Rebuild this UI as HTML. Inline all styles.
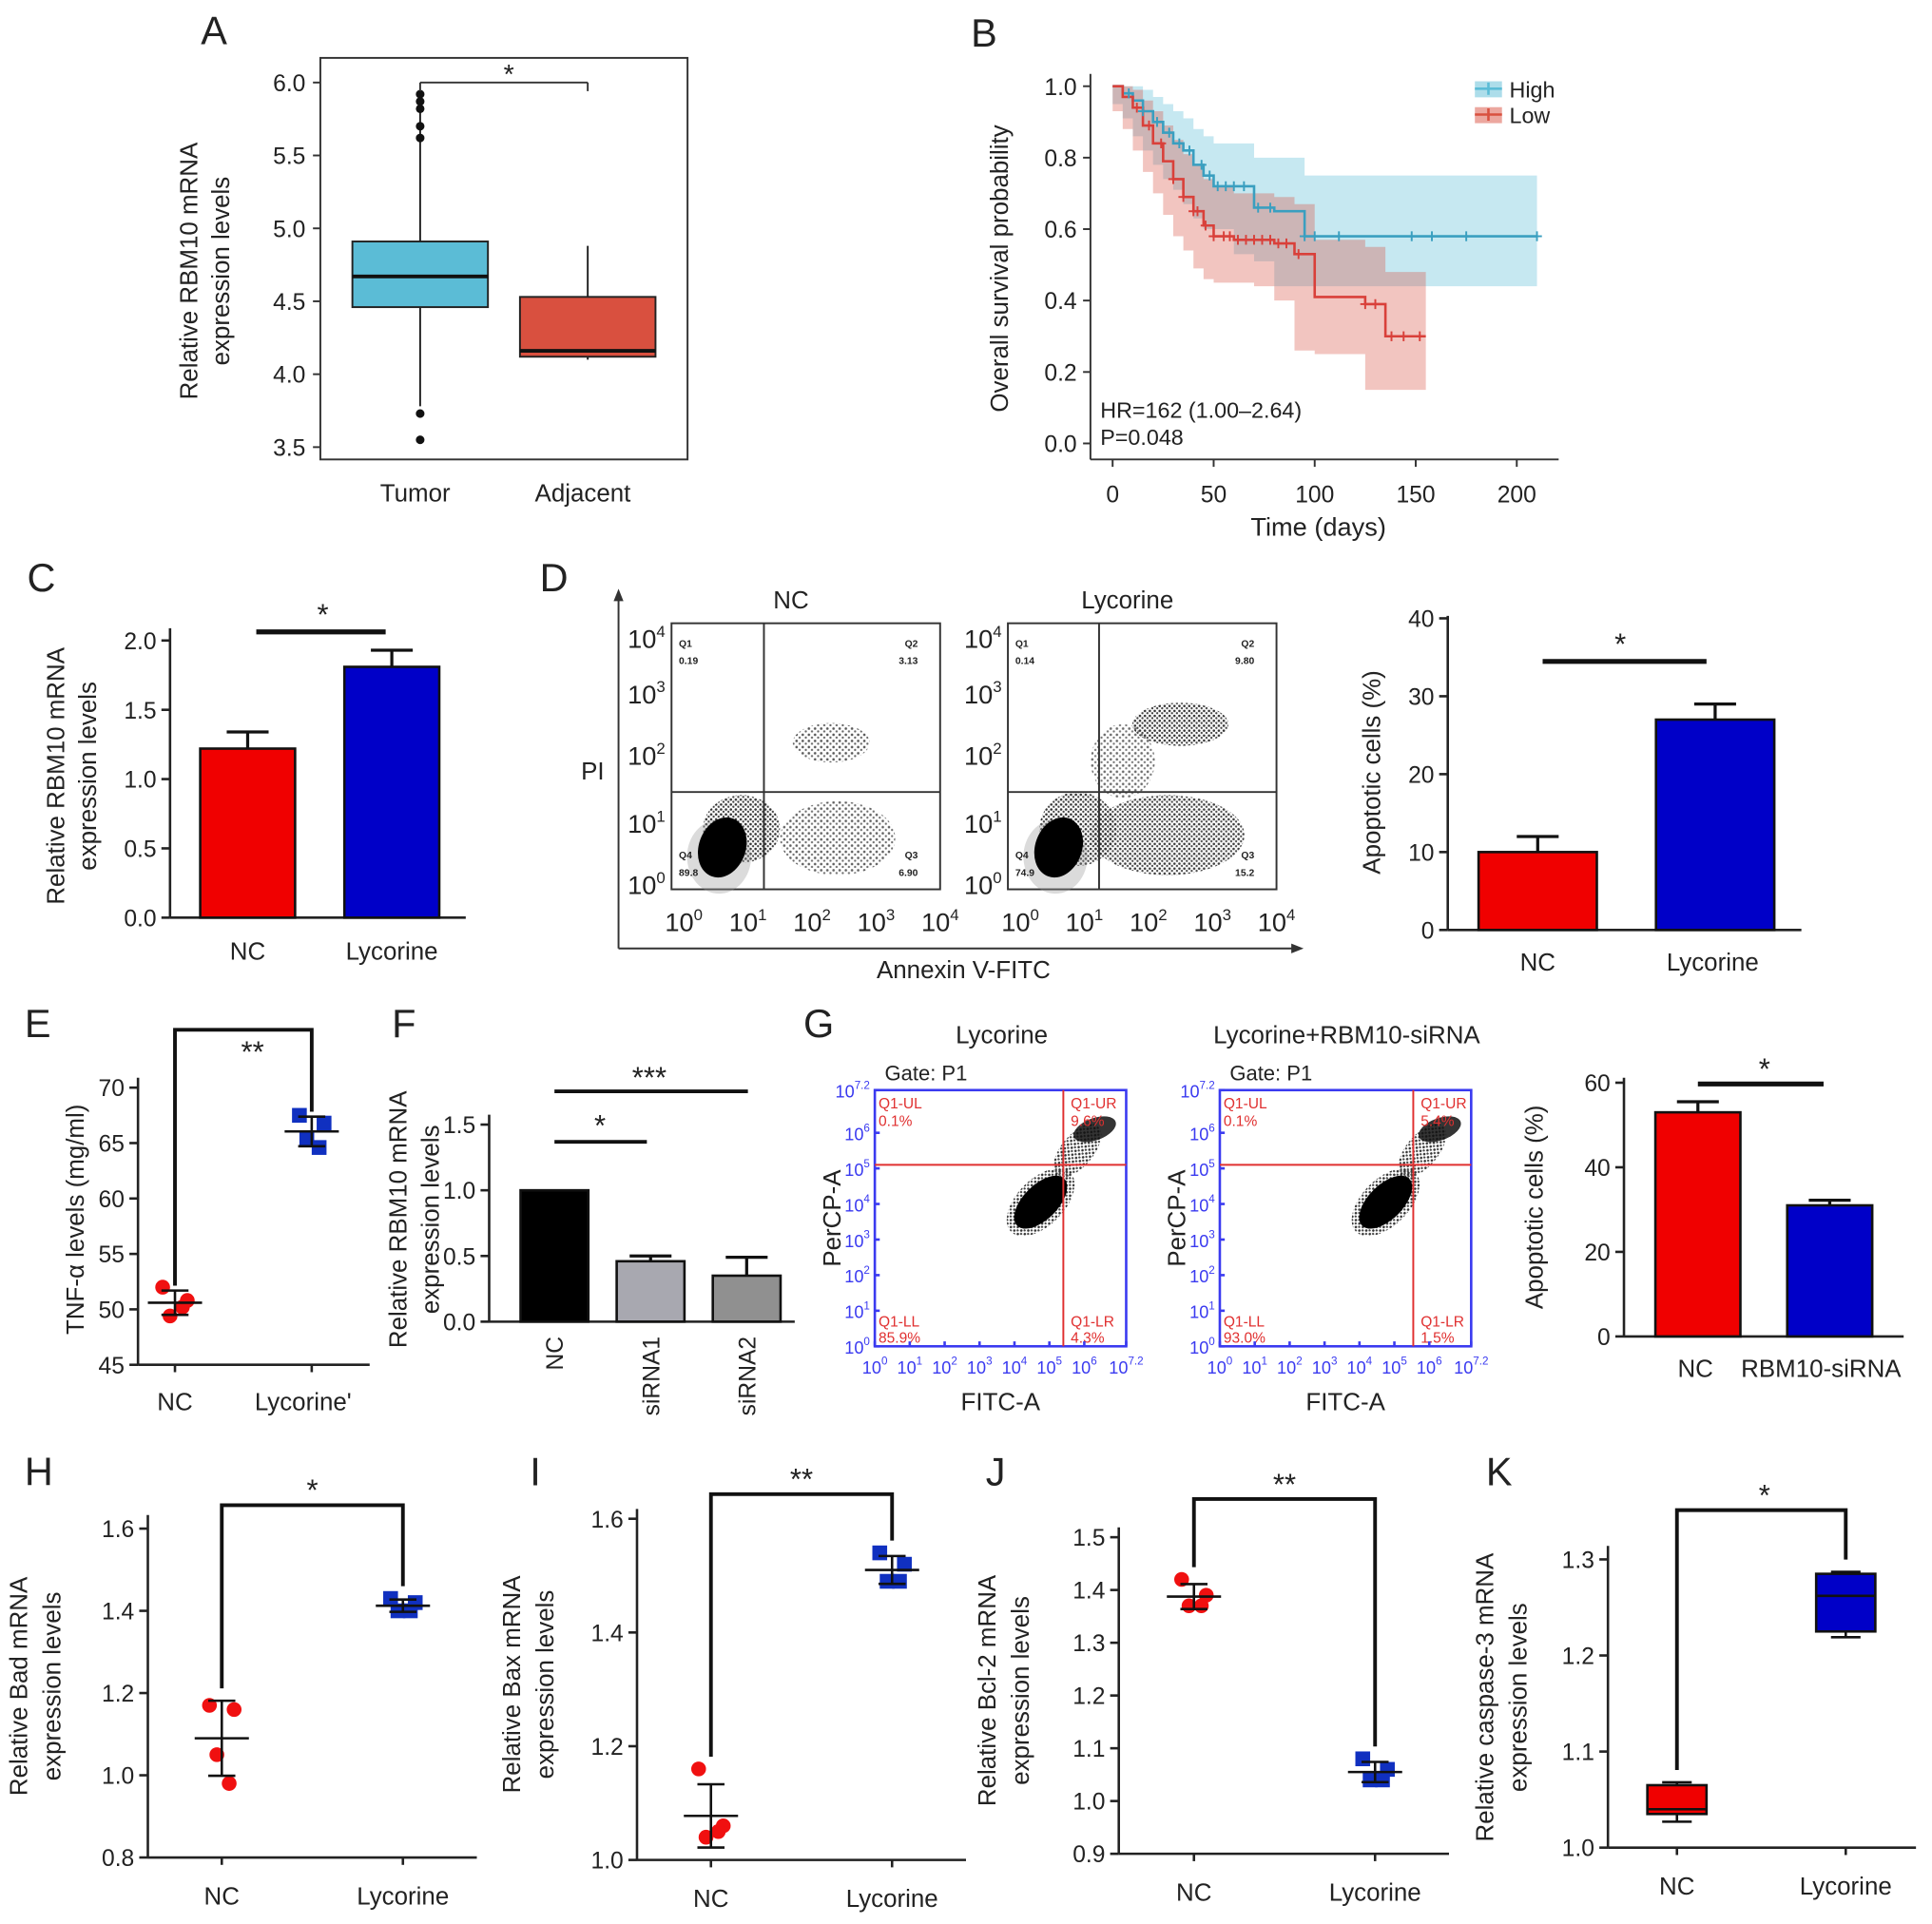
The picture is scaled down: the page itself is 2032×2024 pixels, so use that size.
<!DOCTYPE html>
<html><head><meta charset="utf-8"><style>
html,body{margin:0;padding:0;background:#fff;}
svg{display:block;font-family:"Liberation Sans",sans-serif;}
</style></head><body>
<svg id="fig" xmlns="http://www.w3.org/2000/svg" width="2032" height="2024" viewBox="0 0 1568 1562" preserveAspectRatio="none">
<defs>
<pattern id="dots" width="4" height="4" patternUnits="userSpaceOnUse"><circle cx="1.2" cy="1.2" r="1" fill="#333"/><circle cx="3.2" cy="3" r="0.9" fill="#444"/></pattern>
<pattern id="dots2" width="5" height="5" patternUnits="userSpaceOnUse"><circle cx="1.5" cy="1.5" r="1" fill="#444"/><circle cx="4" cy="3.8" r="0.9" fill="#555"/></pattern>
</defs>
</svg>
<script>
// ---------- data ----------
const aCategories=["Tumor","Adjacent"];
const aTumorBox=[3.78,4.46,4.67,4.91,5.85];
const aAdjBox=[4.10,4.12,4.16,4.53,4.88];
const aTumorOutliers=[5.92,5.87,5.82,5.70,5.62,3.73,3.55];
const aTicks=[3.5,4.0,4.5,5.0,5.5,6.0];

const kmHighT=[0,5,10,15,20,25,30,35,40,45,50,60,70,80,95,210];
const kmHighS=[1,0.98,0.96,0.93,0.9,0.87,0.84,0.82,0.78,0.75,0.72,0.72,0.66,0.65,0.58,0.58];
const kmHighUp=[1,1,1,0.99,0.97,0.95,0.93,0.91,0.88,0.86,0.84,0.84,0.8,0.8,0.75,0.75];
const kmHighLo=[1,0.95,0.91,0.86,0.82,0.78,0.74,0.71,0.67,0.63,0.6,0.6,0.53,0.51,0.44,0.44];
const kmLowT=[0,5,10,15,20,25,30,35,40,45,50,60,70,80,90,100,125,135,155];
const kmLowS=[1,0.97,0.94,0.89,0.84,0.79,0.74,0.69,0.65,0.61,0.58,0.57,0.57,0.56,0.53,0.41,0.39,0.3,0.3];
const kmLowUp=[1,1,0.99,0.96,0.93,0.89,0.85,0.81,0.78,0.74,0.72,0.7,0.7,0.69,0.67,0.57,0.55,0.48,0.48];
const kmLowLo=[1,0.93,0.88,0.82,0.76,0.7,0.64,0.58,0.54,0.49,0.46,0.45,0.45,0.44,0.4,0.26,0.25,0.15,0.15];
const kmHighCens=[8,15,22,28,33,38,44,48,52,56,60,65,72,78,95,100,112,148,158,175,210];
const kmLowCens=[12,18,24,30,35,40,42,46,50,55,58,62,66,70,74,78,82,86,92,125,130,138,144,152];
const kmXTicks=[0,50,100,150,200];
const kmYTicks=[0,0.2,0.4,0.6,0.8,1.0];

const cCategories=["NC","Lycorine"];
const cValues=[1.22,1.81];
const cErrors=[0.12,0.12];
const cTicks=[0,0.5,1.0,1.5,2.0];

const dQuad1=["0.19","3.13","89.8","6.90"];
const dQuad2=["0.14","9.80","74.9","15.2"];
const dCategories=["NC","Lycorine"];
const dValues=[10,27];
const dErrors=[2,2];
const dTicks=[0,10,20,30,40];

const eCategories=["NC","Lycorine'"];
const eNC=[52,50.8,49.4,50.2];
const eLy=[67.5,66.8,65.3,64.6];
const eTicks=[45,50,55,60,65,70];

const fCategories=["NC","siRNA1","siRNA2"];
const fValues=[1.0,0.46,0.35];
const fErrors=[0,0.04,0.14];
const fTicks=[0,0.5,1.0,1.5];

const gQuad1=["0.1%","9.6%","85.9%","4.3%"];
const gQuad2=["0.1%","5.4%","93.0%","1.5%"];
const gCategories=["NC","RBM10-siRNA"];
const gValues=[53,31];
const gErrors=[2.5,1.2];
const gTicks=[0,20,40,60];

const hNC=[1.17,1.16,1.05,0.98];
const hLy=[1.43,1.42,1.40,1.40];
const hTicks=[0.8,1.0,1.2,1.4,1.6];
const iNC=[1.16,1.06,1.04,1.05];
const iLy=[1.54,1.52,1.49,1.49];
const iTicks=[1.0,1.2,1.4,1.6];
const jNC=[1.42,1.39,1.37,1.37];
const jLy=[1.08,1.06,1.04,1.04];
const jTicks=[0.9,1.0,1.1,1.2,1.3,1.4,1.5];
const kNCBox=[1.027,1.035,1.04,1.065,1.068];
const kLyBox=[1.219,1.225,1.262,1.285,1.287];
const kTicks=[1.0,1.1,1.2,1.3];

// ---------- helpers ----------
const NS="http://www.w3.org/2000/svg";
const svg=document.getElementById('fig');
function el(tag,attrs,parent,name){const e=document.createElementNS(NS,tag);for(const k in attrs)e.setAttribute(k,attrs[k]);


(parent||svg).appendChild(e);return e;}
function grp(name){const g=document.createElementNS(NS,'g');


svg.appendChild(g);return g;}
function txt(p,x,y,s,size,opt,name){opt=opt||{};const t=el('text',{x:x,y:y,'font-size':size,'text-anchor':opt.anchor||'middle',fill:opt.fill||'#222'},p,name||'label');
if(opt.rot!==undefined)t.setAttribute('transform','rotate('+opt.rot+' '+x+' '+y+')');
if(opt.weight)t.setAttribute('font-weight',opt.weight);
t.textContent=s;return t;}
function ln(p,x1,y1,x2,y2,c,w,name){return el('line',{x1:x1,y1:y1,x2:x2,y2:y2,stroke:c||'#222','stroke-width':w||2},p,name||'line');}
function lin(v0,p0,v1,p1){return v=>p0+(v-v0)*(p1-p0)/(v1-v0);}
function yAxis(p,x,top,bot,ticks,sc,fmt,size){ln(p,x,top,x,bot,'#222',2,'y-axis-line');
ticks.forEach(t=>{const y=sc(t);ln(p,x-7,y,x,y,'#222',2,'y-tick');txt(p,x-11,y+7,fmt(t),size||19,{anchor:'end'},'y-tick-label');});}
function letter(x,y,s){txt(svg,x,y,s,32,{anchor:'start'},'panel-letter-'+s.toLowerCase());}
const f1=v=>v.toFixed(1), f0=v=>String(v);

// ---------- A ----------
(function(){const g=grp('panel-a-boxplot');letter(163,36,'A');
const y=lin(3.5,363,6.0,67);
el('rect',{x:260,y:47,width:298,height:326,fill:'none',stroke:'#333','stroke-width':1.5},g,'plot-frame');
aTicks.forEach(t=>{ln(g,254,y(t),260,y(t),'#333',1.5,'y-tick');txt(g,248,y(t)+7,t.toFixed(1),19,{anchor:'end'},'y-tick-label');});
const boxes=[aTumorBox,aAdjBox],cols=['#5bbcd6','#d9503f'],xs=[341,477];
boxes.forEach((b,i)=>{const cx=xs[i];ln(g,cx,y(b[0]),cx,y(b[4]),'#222',1.5,'whisker');
el('rect',{x:cx-55,y:y(b[3]),width:110,height:y(b[1])-y(b[3]),fill:cols[i],stroke:'#222','stroke-width':1.5},g,'box-'+aCategories[i].toLowerCase());
ln(g,cx-55,y(b[2]),cx+55,y(b[2]),'#111',3,'median');
txt(g,cx-4,407,aCategories[i],20,{},'x-tick-label');});
aTumorOutliers.forEach(v=>el('circle',{cx:341,cy:y(v),r:3.5,fill:'#111'},g,'outlier'));
ln(g,341,67,477,67,'#333',1.5,'sig-bracket');ln(g,341,67,341,74,'#333',1.5,'sig-bracket');ln(g,477,67,477,74,'#333',1.5,'sig-bracket');
txt(g,413,68,'*',22,{},'sig-star');
txt(g,160,220,'Relative RBM10 mRNA',20,{rot:-90},'y-axis-title');txt(g,186,220,'expression levels',20,{rot:-90},'y-axis-title');
})();

// ---------- B ----------
(function(){const g=grp('panel-b-km');letter(788,38,'B');
const x=lin(0,903,200,1231),y=lin(0,360,1,70);
ln(g,885,373,1265,373,'#333',1.5,'x-axis-line');ln(g,885,60,885,373,'#333',1.5,'y-axis-line');
kmYTicks.forEach(t=>{ln(g,879,y(t),885,y(t),'#333',1.5,'y-tick');txt(g,874,y(t)+7,t.toFixed(1),19,{anchor:'end'},'y-tick-label');});
kmXTicks.forEach(t=>{ln(g,x(t),373,x(t),379,'#333',1.5,'x-tick');txt(g,x(t),408,String(t),19,{},'x-tick-label');});
function step(T,S){let d='M'+x(T[0])+' '+y(S[0]);for(let i=1;i<T.length;i++)d+=' H'+x(T[i])+' V'+y(S[i]);return d;}
function band(T,U,L){let d='M'+x(T[0])+' '+y(U[0]);for(let i=1;i<T.length;i++)d+=' H'+x(T[i])+' V'+y(U[i]);
for(let i=T.length-1;i>0;i--)d+=' V'+y(L[i])+' H'+x(T[i-1]);d+=' V'+y(L[0])+' Z';return d;}
el('path',{d:band(kmHighT,kmHighUp,kmHighLo),fill:'#5bbcd6','fill-opacity':0.35,stroke:'none'},g,'ci-band-high');
el('path',{d:band(kmLowT,kmLowUp,kmLowLo),fill:'#d9503f','fill-opacity':0.33,stroke:'none'},g,'ci-band-low');
el('path',{d:step(kmHighT,kmHighS),fill:'none',stroke:'#3a9fc0','stroke-width':2},g,'curve-high');
el('path',{d:step(kmLowT,kmLowS),fill:'none',stroke:'#d9403a','stroke-width':2},g,'curve-low');
function sAt(T,S,t){let s=S[0];for(let i=0;i<T.length;i++)if(T[i]<=t)s=S[i];return s;}
kmHighCens.forEach(t=>{const cx=x(t),cy=y(sAt(kmHighT,kmHighS,t));ln(g,cx-4,cy,cx+4,cy,'#3a9fc0',1.5,'censor-high');ln(g,cx,cy-4,cx,cy+4,'#3a9fc0',1.5,'censor-high');});
kmLowCens.forEach(t=>{const cx=x(t),cy=y(sAt(kmLowT,kmLowS,t));ln(g,cx-4,cy,cx+4,cy,'#d9403a',1.5,'censor-low');ln(g,cx,cy-4,cx,cy+4,'#d9403a',1.5,'censor-low');});
[['High','#5bbcd6',72],['Low','#d9503f',93]].forEach(l=>{el('rect',{x:1197,y:l[2]-6,width:22,height:13,fill:l[1],'fill-opacity':0.5},g,'legend-swatch');
ln(g,1197,l[2],1219,l[2],l[1],2,'legend-line');ln(g,1208,l[2]-5,1208,l[2]+5,l[1],2,'legend-line');
txt(g,1225,l[2]+7,l[0],18,{anchor:'start'},'legend-entry-'+l[0].toLowerCase());});
txt(g,893,339,'HR=162 (1.00–2.64)',18,{anchor:'start'},'hr-annotation');txt(g,893,361,'P=0.048',18,{anchor:'start'},'p-annotation');
txt(g,1070,435,'Time (days)',21,{},'x-axis-title');txt(g,818,218,'Overall survival probability',20,{rot:-90},'y-axis-title');
})();

// ---------- bar helper ----------
function bars(g,xs,w,vals,errs,cols,y,y0){vals.forEach((v,i)=>{const cx=xs[i];
if(errs[i]>0){ln(g,cx,y(v),cx,y(v+errs[i]),'#111',2.5,'error-bar');ln(g,cx-17,y(v+errs[i]),cx+17,y(v+errs[i]),'#111',2.5,'error-cap');}
el('rect',{x:cx-w/2,y:y(v),width:w,height:y0-y(v),fill:cols[i],stroke:'#111','stroke-width':2},g,'bar-'+i);});}

// ---------- C ----------
(function(){const g=grp('panel-c-bar');letter(22,480,'C');
const y=lin(0,745,2,520);yAxis(g,138,510,745,cTicks,y,f1);
ln(g,138,745,378,745,'#222',2,'x-axis-line');
bars(g,[201,318],77,cValues,cErrors,['#f00000','#0000c8'],y,745);
cCategories.forEach((c,i)=>txt(g,[201,318][i],779,c,20,{},'x-tick-label'));
ln(g,208,513,313,513,'#111',4,'sig-bar');txt(g,262,507,'*',24,{},'sig-star');
txt(g,52,630,'Relative RBM10 mRNA',20,{rot:-90},'y-axis-title');txt(g,78,630,'expression levels',20,{rot:-90},'y-axis-title');
})();

// ---------- D flow ----------
function flow(g,x0,title,q,lineX,lineY,mode){const W=218,H=216,y0=506;
el('rect',{x:x0,y:y0,width:W,height:H,fill:'#fff',stroke:'#333','stroke-width':1.5},g,'flow-frame');
const lx=v=>x0+10+v*52, ly=v=>y0+H-4-v*50;
const cl=mode===1?[[2.3,2.3,0.6,0.32,'url(#dots2)',0.9],[2.4,0.75,0.9,0.6,'url(#dots2)',0.85],[0.9,0.9,0.6,0.55,'url(#dots)',1]]
:[[2.5,2.6,0.75,0.35,'url(#dots)',1],[2.3,0.8,1.2,0.65,'url(#dots)',0.95],[1.6,2.0,0.5,0.6,'url(#dots2)',0.8],[0.9,0.9,0.6,0.6,'url(#dots)',1]];
cl.forEach(c=>el('ellipse',{cx:lx(c[0]),cy:ly(c[1]),rx:c[2]*52,ry:c[3]*50,fill:c[4],'fill-opacity':c[5]},g,'event-cloud'));
el('ellipse',{cx:lx(0.55),cy:ly(0.45),rx:26,ry:30,fill:'#999','fill-opacity':0.35},g,'halo-population');
el('ellipse',{cx:lx(0.6),cy:ly(0.6),rx:19,ry:25,fill:'#000',transform:'rotate(20 '+lx(0.6)+' '+ly(0.6)+')'},g,'dense-population');
ln(g,lineX,y0,lineX,y0+H,'#333',1.5,'quadrant-line-v');ln(g,x0,lineY,x0+W,lineY,'#333',1.5,'quadrant-line-h');
txt(g,x0+6,y0+19,'Q1',8,{anchor:'start',weight:'bold'},'quad-label');txt(g,x0+6,y0+33,q[0],8,{anchor:'start',weight:'bold'},'quad-value');
txt(g,x0+W-18,y0+19,'Q2',8,{anchor:'end',weight:'bold'},'quad-label');txt(g,x0+W-18,y0+33,q[1],8,{anchor:'end',weight:'bold'},'quad-value');
txt(g,x0+6,y0+H-25,'Q4',8,{anchor:'start',weight:'bold'},'quad-label');txt(g,x0+6,y0+H-11,q[2],8,{anchor:'start',weight:'bold'},'quad-value');
txt(g,x0+W-18,y0+H-25,'Q3',8,{anchor:'end',weight:'bold'},'quad-label');txt(g,x0+W-18,y0+H-11,q[3],8,{anchor:'end',weight:'bold'},'quad-value');
[0,1,2,3,4].forEach(i=>{const yy=[718,668,613,563,518][i];const t=txt(g,x0-5,yy+8,'10',21,{anchor:'end'},'y-tick-label');
const s=document.createElementNS(NS,'tspan');s.setAttribute('dy','-9');s.setAttribute('font-size','13');s.textContent=i;t.appendChild(s);
const xx=x0+10+i*52;const t2=txt(g,xx,756,'10',21,{},'x-tick-label');const s2=document.createElementNS(NS,'tspan');s2.setAttribute('dy','-9');s2.setAttribute('font-size','13');s2.textContent=i;t2.appendChild(s2);});
txt(g,x0+W/2-12,494,title,20,{},'flow-title');}
(function(){const g=grp('panel-d-flow');letter(438,480,'D');
ln(g,502,770,502,482,'#333',1.5,'axis-arrow');el('path',{d:'M498 488 L502 478 L506 488 Z',fill:'#333'},g,'arrowhead');
ln(g,502,770,1052,770,'#333',1.5,'axis-arrow');el('path',{d:'M1048 766 L1058 770 L1048 774 Z',fill:'#333'},g,'arrowhead');
flow(g,545,'NC',dQuad1,620,643,1);flow(g,818,'Lycorine',dQuad2,892,643,2);
txt(g,481,633,'PI',20,{},'y-axis-title');txt(g,782,794,'Annexin V-FITC',20,{},'x-axis-title');
const g2=grp('panel-d-bar');const y=lin(0,755,40,502);yAxis(g2,1175,500,755,dTicks,y,f0);
ln(g2,1175,755,1462,755,'#222',2,'x-axis-line');
bars(g2,[1248,1392],96,dValues,dErrors,['#f00000','#0000c8'],y,755);
dCategories.forEach((c,i)=>txt(g2,[1248,1390][i],788,c,20,{},'x-tick-label'));
ln(g2,1252,537,1385,537,'#111',4,'sig-bar');txt(g2,1315,531,'*',24,{},'sig-star');
txt(g2,1120,627,'Apoptotic cells (%)',20,{rot:-90},'y-axis-title');
})();

// ---------- dot plot helper ----------
const jit=[-10,10,-4,6];
function dots(g,cx,vals,y,col,shape){vals.forEach((v,i)=>{const px=cx+jit[i],py=y(v);
if(shape==='c')el('circle',{cx:px,cy:py,r:6,fill:col},g,'point');else el('rect',{x:px-6,y:py-6,width:12,height:12,fill:col},g,'point');});
const m=vals.reduce((a,b)=>a+b)/vals.length;const sd=Math.sqrt(vals.reduce((a,b)=>a+(b-m)*(b-m),0)/(vals.length-1));
ln(g,cx-22,y(m),cx+22,y(m),'#111',2,'mean-line');ln(g,cx,y(m-sd),cx,y(m+sd),'#111',2,'sd-line');
ln(g,cx-11,y(m-sd),cx+11,y(m-sd),'#111',2,'sd-cap');ln(g,cx-11,y(m+sd),cx+11,y(m+sd),'#111',2,'sd-cap');return [m,sd];}
function bracket(g,x1,y1,x2,y2,top){el('path',{d:'M'+x1+' '+y1+' V'+top+' H'+x2+' V'+y2,fill:'none',stroke:'#111','stroke-width':3},g,'sig-bracket');}

// ---------- E ----------
(function(){const g=grp('panel-e-dots');letter(20,842,'E');
const y=lin(45,1108,70,883);yAxis(g,112,875,1108,eTicks,y,f0);ln(g,112,1108,300,1108,'#222',2,'x-axis-line');
const a=dots(g,142,eNC,y,'#f01010','c'),b=dots(g,253,eLy,y,'#1030c0','s');
bracket(g,142,y(a[0]+a[1])-4,253,y(b[0]+b[1])-4,836);txt(g,205,862,'**',24,{},'sig-star');
eCategories.forEach((c,i)=>{ln(g,[142,253][i],1108,[142,253][i],1114,'#222',2,'x-tick');txt(g,[142,246][i],1145,c,20,{},'x-tick-label');});
txt(g,68,990,'TNF-α levels (mg/ml)',20,{rot:-90},'y-axis-title');
})();

// ---------- F ----------
(function(){const g=grp('panel-f-bar');letter(318,842,'F');
const y=lin(0,1073,1.5,913);yAxis(g,397,905,1073,fTicks,y,f1);ln(g,397,1073,645,1073,'#222',2,'x-axis-line');
bars(g,[450,528,606],55,fValues,fErrors,['#000','#a8a8b0','#909090'],y,1073);
fCategories.forEach((c,i)=>txt(g,[450,528,606][i]+7,1085,c,19,{anchor:'end',rot:-90},'x-tick-label'));
ln(g,450,927,525,927,'#111',3,'sig-bar');txt(g,487,922,'*',24,{},'sig-star');
ln(g,450,886,607,886,'#111',3,'sig-bar');txt(g,527,883,'***',24,{},'sig-star');
txt(g,330,990,'Relative RBM10 mRNA',20,{rot:-90},'y-axis-title');txt(g,356,990,'expression levels',20,{rot:-90},'y-axis-title');
})();

// ---------- G flow ----------
function gflow(g,x0,title,q,lx){const W=204,y0=885,H=208,blue='#3a3af0',red='#e03030';
el('rect',{x:x0,y:y0,width:W,height:H,fill:'#fff',stroke:blue,'stroke-width':2},g,'flow-frame');
const sx=lin(0,x0,7.2,x0+W),sy=lin(0,y0+H,7.2,y0);
el('ellipse',{cx:sx(4.75),cy:sy(4.05),rx:34,ry:19,fill:'url(#dots)',transform:'rotate(-45 '+sx(4.75)+' '+sy(4.05)+')'},g,'event-halo');
el('ellipse',{cx:sx(4.75),cy:sy(4.05),rx:27,ry:14,fill:'#000',transform:'rotate(-45 '+sx(4.75)+' '+sy(4.05)+')'},g,'dense-population');
el('ellipse',{cx:sx(5.8),cy:sy(5.5),rx:26,ry:13,fill:'url(#dots)',transform:'rotate(-50 '+sx(5.8)+' '+sy(5.5)+')'},g,'event-cloud');
el('ellipse',{cx:sx(6.3),cy:sy(6.1),rx:18,ry:9,fill:'#111','fill-opacity':0.85,transform:'rotate(-20 '+sx(6.3)+' '+sy(6.1)+')'},g,'event-cloud');
ln(g,lx,y0,lx,y0+H,red,1.5,'quadrant-line-v');ln(g,x0,sy(5.1),x0+W,sy(5.1),red,1.5,'quadrant-line-h');
const o={anchor:'start',fill:red};
txt(g,x0+3,y0+15,'Q1-UL',12,o,'quad-label');txt(g,x0+3,y0+29,q[0],12,o,'quad-value');
txt(g,lx+6,y0+15,'Q1-UR',12,o,'quad-label');txt(g,lx+6,y0+29,q[1],12,o,'quad-value');
txt(g,x0+3,y0+H-16,'Q1-LL',12,o,'quad-label');txt(g,x0+3,y0+H-3,q[2],12,o,'quad-value');
txt(g,lx+6,y0+H-16,'Q1-LR',12,o,'quad-label');txt(g,lx+6,y0+H-3,q[3],12,o,'quad-value');
for(let i=0;i<=7;i++){const lab=i===7?'7.2':String(i),v=i===7?7.2:i;
const t=txt(g,x0-4,sy(v)+6,'10',14,{anchor:'end',fill:blue},'y-tick-label');const s=document.createElementNS(NS,'tspan');s.setAttribute('dy','-7');s.setAttribute('font-size','9');s.textContent=lab;t.appendChild(s);
const t2=txt(g,sx(v),y0+H+22,'10',14,{fill:blue},'x-tick-label');const s2=document.createElementNS(NS,'tspan');s2.setAttribute('dy','-7');s2.setAttribute('font-size','9');s2.textContent=lab;t2.appendChild(s2);
ln(g,x0,sy(v),x0+4,sy(v),blue,2,'y-tick');ln(g,sx(v),y0+H,sx(v),y0+H-4,blue,2,'x-tick');}
txt(g,x0+8,y0-8,'Gate: P1',17,{anchor:'start'},'gate-label');txt(g,x0+103,y0-38,title,20,{},'flow-title');
txt(g,x0-28,y0+H/2,'PerCP-A',20,{rot:-90},'y-axis-title');txt(g,x0+102,y0+H+52,'FITC-A',20,{},'x-axis-title');}
(function(){const g=grp('panel-g-flow');letter(652,842,'G');
gflow(g,710,'Lycorine',gQuad1,863);gflow(g,990,'Lycorine+RBM10-siRNA',gQuad2,1147);
const g2=grp('panel-g-bar');const y=lin(0,1085,60,879);yAxis(g2,1318,875,1085,gTicks,y,f0);
ln(g2,1318,1085,1545,1085,'#222',2,'x-axis-line');
bars(g2,[1378,1485],69,gValues,gErrors,['#f00000','#0000c8'],y,1085);
gCategories.forEach((c,i)=>txt(g2,[1376,1478][i],1118,c,20,{},'x-tick-label'));
ln(g2,1378,880,1480,880,'#111',4,'sig-bar');txt(g2,1432,876,'*',24,{},'sig-star');
txt(g2,1252,980,'Apoptotic cells (%)',20,{rot:-90},'y-axis-title');
})();

// ---------- H I J ----------
function dotPanel(name,L,lx,ly,axX,top,bot,v0,p0,v1,p1,ticks,fmt,xa,xb,nc,ly2,brTop,stars,t1,t2,tx){
const g=grp(name);letter(lx,ly,L);const y=lin(v0,p0,v1,p1);yAxis(g,axX,top,bot,ticks,y,fmt);
ln(g,axX,bot,xb+60,bot,'#222',2,'x-axis-line');
const a=dots(g,xa,nc,y,'#f01010','c'),b=dots(g,xb,ly2,y,'#1030c0','s');
bracket(g,xa,Math.min(y(a[0]+a[1]),y(Math.max(...nc)))-10,xb,Math.min(y(b[0]+b[1]),y(Math.max(...ly2)))-10,brTop);
txt(g,(xa+xb)/2,brTop-4,stars,24,{},'sig-star');
[xa,xb].forEach((x,i)=>{ln(g,x,bot,x,bot+6,'#222',2,'x-tick');txt(g,x,bot+38,['NC','Lycorine'][i],20,{},'x-tick-label');});
txt(g,tx,(top+bot)/2,t1,20,{rot:-90},'y-axis-title');txt(g,tx+27,(top+bot)/2,'expression levels',20,{rot:-90},'y-axis-title');}
dotPanel('panel-h-dots','H',20,1206,120,1230,1508,0.8,1508,1.6,1241,hTicks,f1,180,327,hNC,hLy,1222,'*','Relative Bad mRNA',0,22);
dotPanel('panel-i-dots','I',430,1206,517,1225,1510,1.0,1510,1.6,1233,iTicks,f1,577,724,iNC,iLy,1213,'**','Relative Bax mRNA',0,422);
dotPanel('panel-j-dots','J',800,1206,908,1240,1505,0.9,1505,1.5,1248,jTicks,f1,969,1116,jNC,jLy,1217,'**','Relative Bcl-2 mRNA',0,808);

// ---------- K ----------
(function(){const g=grp('panel-k-boxplot');letter(1206,1206,'K');
const y=lin(1.0,1500,1.3,1266);yAxis(g,1305,1255,1500,kTicks,y,f1);ln(g,1305,1500,1555,1500,'#222',2,'x-axis-line');
[[1361,kNCBox,'#f00000'],[1498,kLyBox,'#0000c8']].forEach((d,i)=>{const cx=d[0],b=d[1];
ln(g,cx,y(b[0]),cx,y(b[4]),'#111',2,'whisker');ln(g,cx-12,y(b[0]),cx+12,y(b[0]),'#111',2,'whisker-cap');ln(g,cx-12,y(b[4]),cx+12,y(b[4]),'#111',2,'whisker-cap');
el('rect',{x:cx-24,y:y(b[3]),width:48,height:y(b[1])-y(b[3]),fill:d[2],stroke:'#111','stroke-width':2},g,'box-'+i);
ln(g,cx-24,y(b[2]),cx+24,y(b[2]),'#111',2,'median');
ln(g,cx,1500,cx,1506,'#222',2,'x-tick');txt(g,cx,1538,['NC','Lycorine'][i],20,{},'x-tick-label');});
bracket(g,1361,y(kNCBox[4])-10,1498,y(kLyBox[4])-10,1226);txt(g,1432,1222,'*',24,{},'sig-star');
txt(g,1212,1378,'Relative caspase-3 mRNA',20,{rot:-90},'y-axis-title');txt(g,1239,1378,'expression levels',20,{rot:-90},'y-axis-title');
})();
</script>
</body></html>
